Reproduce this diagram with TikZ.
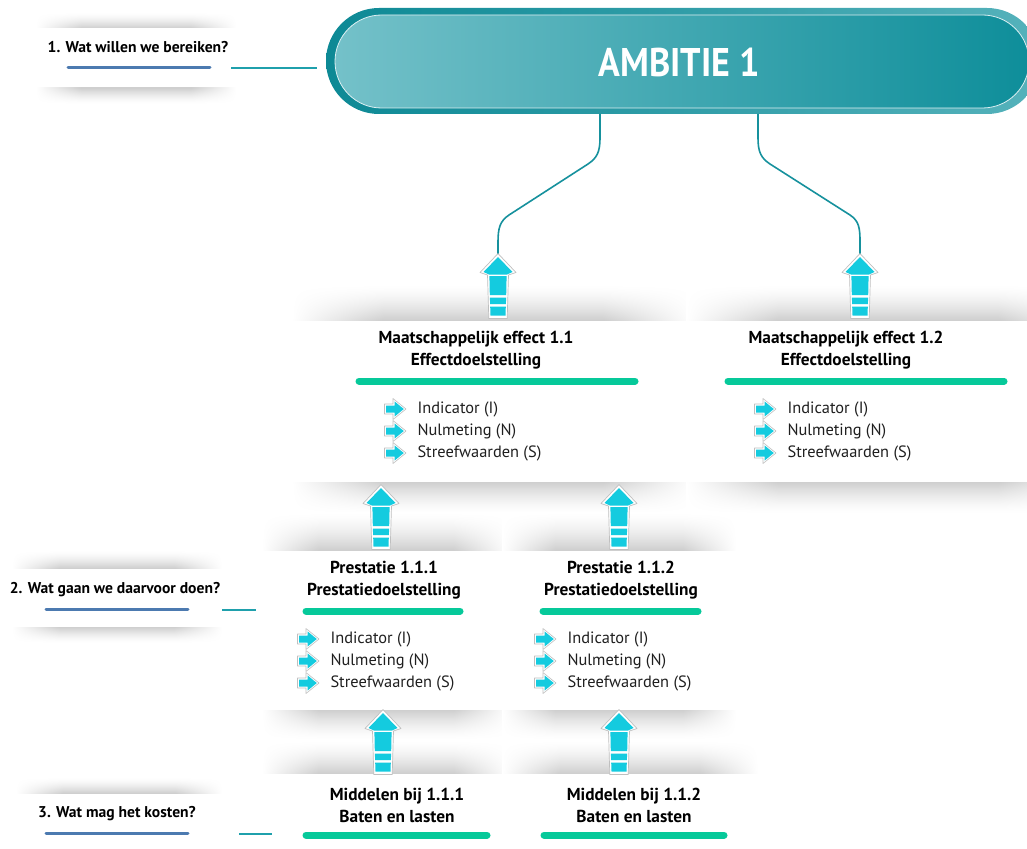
\documentclass[tikz,border=0pt]{standalone}
\usepackage{fontspec}
\setmainfont{PT Sans}
\definecolor{acyan}{HTML}{14CBDF}
\definecolor{gbar}{HTML}{06C99A}
\definecolor{bline}{HTML}{4C7AB0}
\definecolor{tconn}{HTML}{16919D}
\definecolor{tlab}{HTML}{1FA0AC}
\definecolor{pillA}{HTML}{0D8995}
\definecolor{pillB}{HTML}{55B2BB}
\definecolor{pillC}{HTML}{74C1C9}
\definecolor{pillD}{HTML}{0E8E9A}
% the middle 50bp square (25..75) of a shading is fitted to the path
% dark at the top edge of the band, fading downwards and at both ends
\pgfdeclarefunctionalshading{bandtopdark}{\pgfpointorigin}{\pgfpoint{100bp}{100bp}}{}{
  25 sub 50 div dup 0 lt {pop 0} if dup 1 gt {pop 1} if dup sqrt mul
  exch 50 sub abs 25 div 1 exch sub 2.2 mul dup 1 gt {pop 1} if dup 0 lt {pop 0} if
  mul 0.19 mul 1 exch sub dup dup
}
% dark at the bottom edge of the band, fading upwards and at both ends
\pgfdeclarefunctionalshading{bandbotdark}{\pgfpointorigin}{\pgfpoint{100bp}{100bp}}{}{
  25 sub 50 div dup 0 lt {pop 0} if dup 1 gt {pop 1} if 1 exch sub dup sqrt mul
  exch 50 sub abs 25 div 1 exch sub 2.2 mul dup 1 gt {pop 1} if dup 0 lt {pop 0} if
  mul 0.19 mul 1 exch sub dup dup
}
\tikzset{
  shadup/.style={shading=bandbotdark},
  shaddown/.style={shading=bandtopdark},
  conn/.style={draw=tconn, line width=1.6pt},
  labline/.style={draw=tlab, line width=1.4pt},
  uline/.style={draw=bline, line width=3pt, line cap=round},
  gbarst/.style={draw=gbar, line width=7pt, line cap=round},
  lab/.style={font=\bfseries\fontsize{15.6}{18}\selectfont, text=black},
  ttl/.style={font=\bfseries\fontsize{17.3}{22}\selectfont, align=center, text=black},
  item/.style={font=\fontsize{16.4}{18}\selectfont, anchor=west, text=black!88},
  uparrow/.pic={
    \path[fill=white, draw=black!25, line width=0.7pt, line join=round]
      (0,-2.5) -- (18,16.5) -- (10.5,19) -- (9.2,62.5) -- (-9.2,62.5) -- (-10.5,19) -- (-18,16.5) -- cycle;
    \fill[acyan] (0,1) -- (14.5,16) -- (9,18.5) -- (-9,18.5) -- (-14.5,16) -- cycle;
    \fill[acyan] (-8.6,20) -- (8.6,20) -- (8.2,39) -- (-8.2,39) -- cycle;
    \fill[acyan] (-8.1,41.5) -- (8.1,41.5) -- (7.9,48) -- (-7.9,48) -- cycle;
    \fill[acyan] (-7.8,50.5) -- (7.8,50.5) -- (7.5,59.5) -- (-7.5,59.5) -- cycle;
  },
  bul/.pic={
    \path[fill=white, draw=black!25, line width=0.6pt, line join=round]
      (-1.5,-5) -- (7,-5) -- (7,-10.5) -- (20,0) -- (7,10.5) -- (7,5) -- (-1.5,5) -- cycle;
    \fill[acyan] (0,-3.5) -- (8.5,-3.5) -- (8.5,-7.6) -- (17.8,0) -- (8.5,7.6) -- (8.5,3.5) -- (0,3.5) -- cycle;
  }
}
\begin{document}
\begin{tikzpicture}[x=1pt,y=-1pt]
\useasboundingbox (0,0) rectangle (1027,848);
\begin{scope}
\clip (0,0) rectangle (1027,848);
% ---------- shadow bands ----------
\path[shadup]   (36,12) rectangle (236,28);
\path[shaddown] (36,88) rectangle (236,104);
\path[shadup]   (12,550) rectangle (222,568);
\path[shaddown] (12,627) rectangle (222,643);
\path[shadup]   (16,777) rectangle (222,793);
\path[shadup]   (292,284) rectangle (694,320);
\path[shaddown] (292,482) rectangle (694,514);
\path[shadup]   (686,284) rectangle (1090,320);
\path[shaddown] (686,482) rectangle (1090,514);
\path[shadup]   (262,512) rectangle (510,550);
\path[shaddown] (262,710) rectangle (510,740);
\path[shadup]   (502,512) rectangle (736,550);
\path[shaddown] (502,710) rectangle (736,740);
\path[shadup]   (262,740) rectangle (510,773);
\path[shadup]   (502,740) rectangle (758,773);
% ---------- ambition pill ----------
\path[left color=pillA, right color=pillB, rounded corners=53pt] (326,8) rectangle (1040,114);
\path[left color=pillC, right color=pillD, draw=white!75!pillC, line width=0.8pt, rounded corners=46.5pt] (335,15) rectangle (1029,108);
\node[font=\bfseries\fontsize{40}{40}\selectfont, text=white] (amb) at (679,62) {\scalebox{0.9}[1]{AMBITIE 1}};
\end{scope}
% ---------- anchor coordinates ----------
\coordinate (ambL) at (600,114);
\coordinate (ambR) at (758,114);
\coordinate (ambW) at (317,68);
\coordinate (a1) at (498,256);
\coordinate (a2) at (860,256);
% ---------- connectors from ambition ----------
\draw[conn] (ambL) -- (600,138) .. controls (600,152) and (597,158) .. (588,164) -- (509,215) .. controls (500,221) and (498,228) .. (498,242) -- (a1);
\draw[conn] (ambR) -- (758,138) .. controls (758,152) and (761,158) .. (770,164) -- (850,215) .. controls (859,221) and (860,228) .. (860,242) -- (a2);
% ---------- up arrows ----------
\pic at (a1) {uparrow};
\pic at (a2) {uparrow};
\pic at (381,487) {uparrow};
\pic at (619,487) {uparrow};
\pic at (383,712) {uparrow};
\pic at (619,712) {uparrow};
% ---------- left labels ----------
\node[lab] (q1) at (138,47) {1. Wat willen we bereiken?};
\draw[uline] (68,68) -- (210,68);
\coordinate (q1e) at (231,68);
\draw[labline] (q1e) -- (ambW);
\node[lab] (q2) at (115,590) {2. Wat gaan we daarvoor doen?};
\draw[uline] (46,609) -- (188,609);
\coordinate (q2a) at (222,610);
\coordinate (q2b) at (256,610);
\draw[labline] (q2a) -- (q2b);
\node[lab] (q3) at (117,814) {3. Wat mag het kosten?};
\draw[uline] (46,833) -- (188,833);
\coordinate (q3a) at (239,834);
\coordinate (q3b) at (272,834);
\draw[labline] (q3a) -- (q3b);
% ---------- effect cards ----------
\node[ttl] (e1) at (476,350) {Maatschappelijk effect 1.1\\Effectdoelstelling};
\draw[gbarst] (359,381) -- (635,381);
\pic at (386,409) {bul}; \node[item] (e1i) at (414,409) {Indicator (I)};
\pic at (386,431) {bul}; \node[item] (e1n) at (414,431) {Nulmeting (N)};
\pic at (386,453) {bul}; \node[item] (e1s) at (414,453) {Streefwaarden (S)};
\node[ttl] (e2) at (846,350) {Maatschappelijk effect 1.2\\Effectdoelstelling};
\draw[gbarst] (728,381) -- (1004,381);
\pic at (756,409) {bul}; \node[item] (e2i) at (784,409) {Indicator (I)};
\pic at (756,431) {bul}; \node[item] (e2n) at (784,431) {Nulmeting (N)};
\pic at (756,453) {bul}; \node[item] (e2s) at (784,453) {Streefwaarden (S)};
% ---------- prestatie cards ----------
\node[ttl] (p1) at (384,580) {Prestatie 1.1.1\\Prestatiedoelstelling};
\draw[gbarst] (306,611) -- (460,611);
\pic at (299,639) {bul}; \node[item] (p1i) at (327,639) {Indicator (I)};
\pic at (299,661) {bul}; \node[item] (p1n) at (327,661) {Nulmeting (N)};
\pic at (299,683) {bul}; \node[item] (p1s) at (327,683) {Streefwaarden (S)};
\node[ttl] (p2) at (621,580) {Prestatie 1.1.2\\Prestatiedoelstelling};
\draw[gbarst] (543,611) -- (698,611);
\pic at (536,639) {bul}; \node[item] (p2i) at (564,639) {Indicator (I)};
\pic at (536,661) {bul}; \node[item] (p2n) at (564,661) {Nulmeting (N)};
\pic at (536,683) {bul}; \node[item] (p2s) at (564,683) {Streefwaarden (S)};
% ---------- middelen cards ----------
\node[ttl] (m1) at (397,805) {Middelen bij 1.1.1\\Baten en lasten};
\draw[gbarst] (306,835) -- (487,835);
\node[ttl] (m2) at (634,805) {Middelen bij 1.1.2\\Baten en lasten};
\draw[gbarst] (544,835) -- (724,835);
\end{tikzpicture}
\end{document}
